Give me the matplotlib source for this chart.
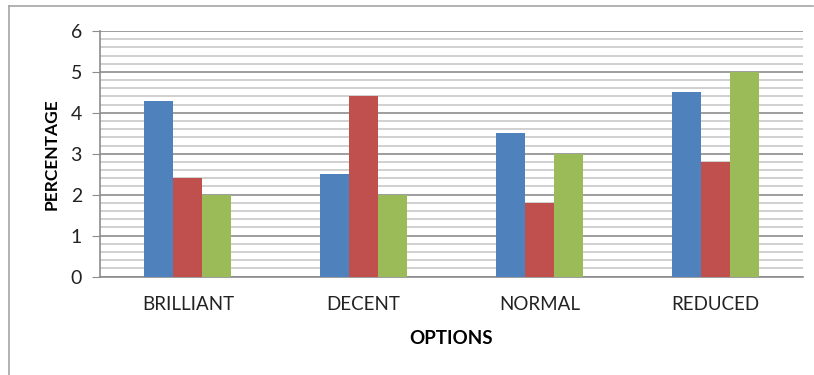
import matplotlib.pyplot as plt
import numpy as np
from matplotlib.lines import Line2D
from matplotlib.ticker import MultipleLocator

plt.rcParams['font.family'] = ['Lato', 'DejaVu Sans']

options = ['BRILLIANT', 'DECENT', 'NORMAL', 'REDUCED']
series_1 = [4.3, 2.5, 3.5, 4.5]
series_2 = [2.4, 4.4, 1.8, 2.8]
series_3 = [2.0, 2.0, 3.0, 5.0]
colors = ['#4F81BD', '#C0504D', '#9BBB59']

W, H = 814, 375
fig = plt.figure(figsize=(W / 100, H / 100), dpi=100)
ax = fig.add_axes([100 / W, 1 - 276.5 / H, 703 / W, 245.5 / H])

x = np.arange(len(options))
width = 0.165
for i, (vals, c) in enumerate(zip([series_1, series_2, series_3], colors)):
    ax.bar(x + (i - 1) * width, vals, width, color=c, zorder=3)

ax.set_xlim(-0.5, len(options) - 0.5)
ax.set_ylim(0, 6)
ax.yaxis.set_major_locator(MultipleLocator(1))
ax.yaxis.set_minor_locator(MultipleLocator(0.2))
ax.grid(which='major', axis='y', color='#8c8c8c', linewidth=1.2, zorder=0)
ax.grid(which='minor', axis='y', color='#c8c8c8', linewidth=1.2, zorder=0)

for s in ['top', 'right']:
    ax.spines[s].set_visible(False)
ax.spines['left'].set_color('#8c8c8c')
ax.spines['bottom'].set_color('#8c8c8c')
ax.spines['left'].set_linewidth(1.2)
ax.spines['bottom'].set_linewidth(1.2)

ax.set_xticks(x)
ax.set_xticklabels(options, fontsize=13.5, color='#222222')
ax.tick_params(axis='x', length=0, pad=14)
ax.tick_params(axis='y', which='major', length=6, color='#8c8c8c', labelsize=14,
               labelcolor='#222222', pad=7)
ax.tick_params(axis='y', which='minor', length=0)

ax.set_xlabel('OPTIONS', fontsize=13.5, fontweight='bold', labelpad=12)
ax.set_ylabel('PERCENTAGE', fontsize=12.5, fontweight='bold', labelpad=8)

# outer chart border (left and top edges)
fig.add_artist(Line2D([9 / W, 9 / W], [0, 1 - 6 / H], color='#a6a6a6', linewidth=1.2))
fig.add_artist(Line2D([9 / W, 813 / W], [1 - 6 / H, 1 - 6 / H], color='#a6a6a6', linewidth=1.2))

plt.savefig('out.png', dpi=100)
